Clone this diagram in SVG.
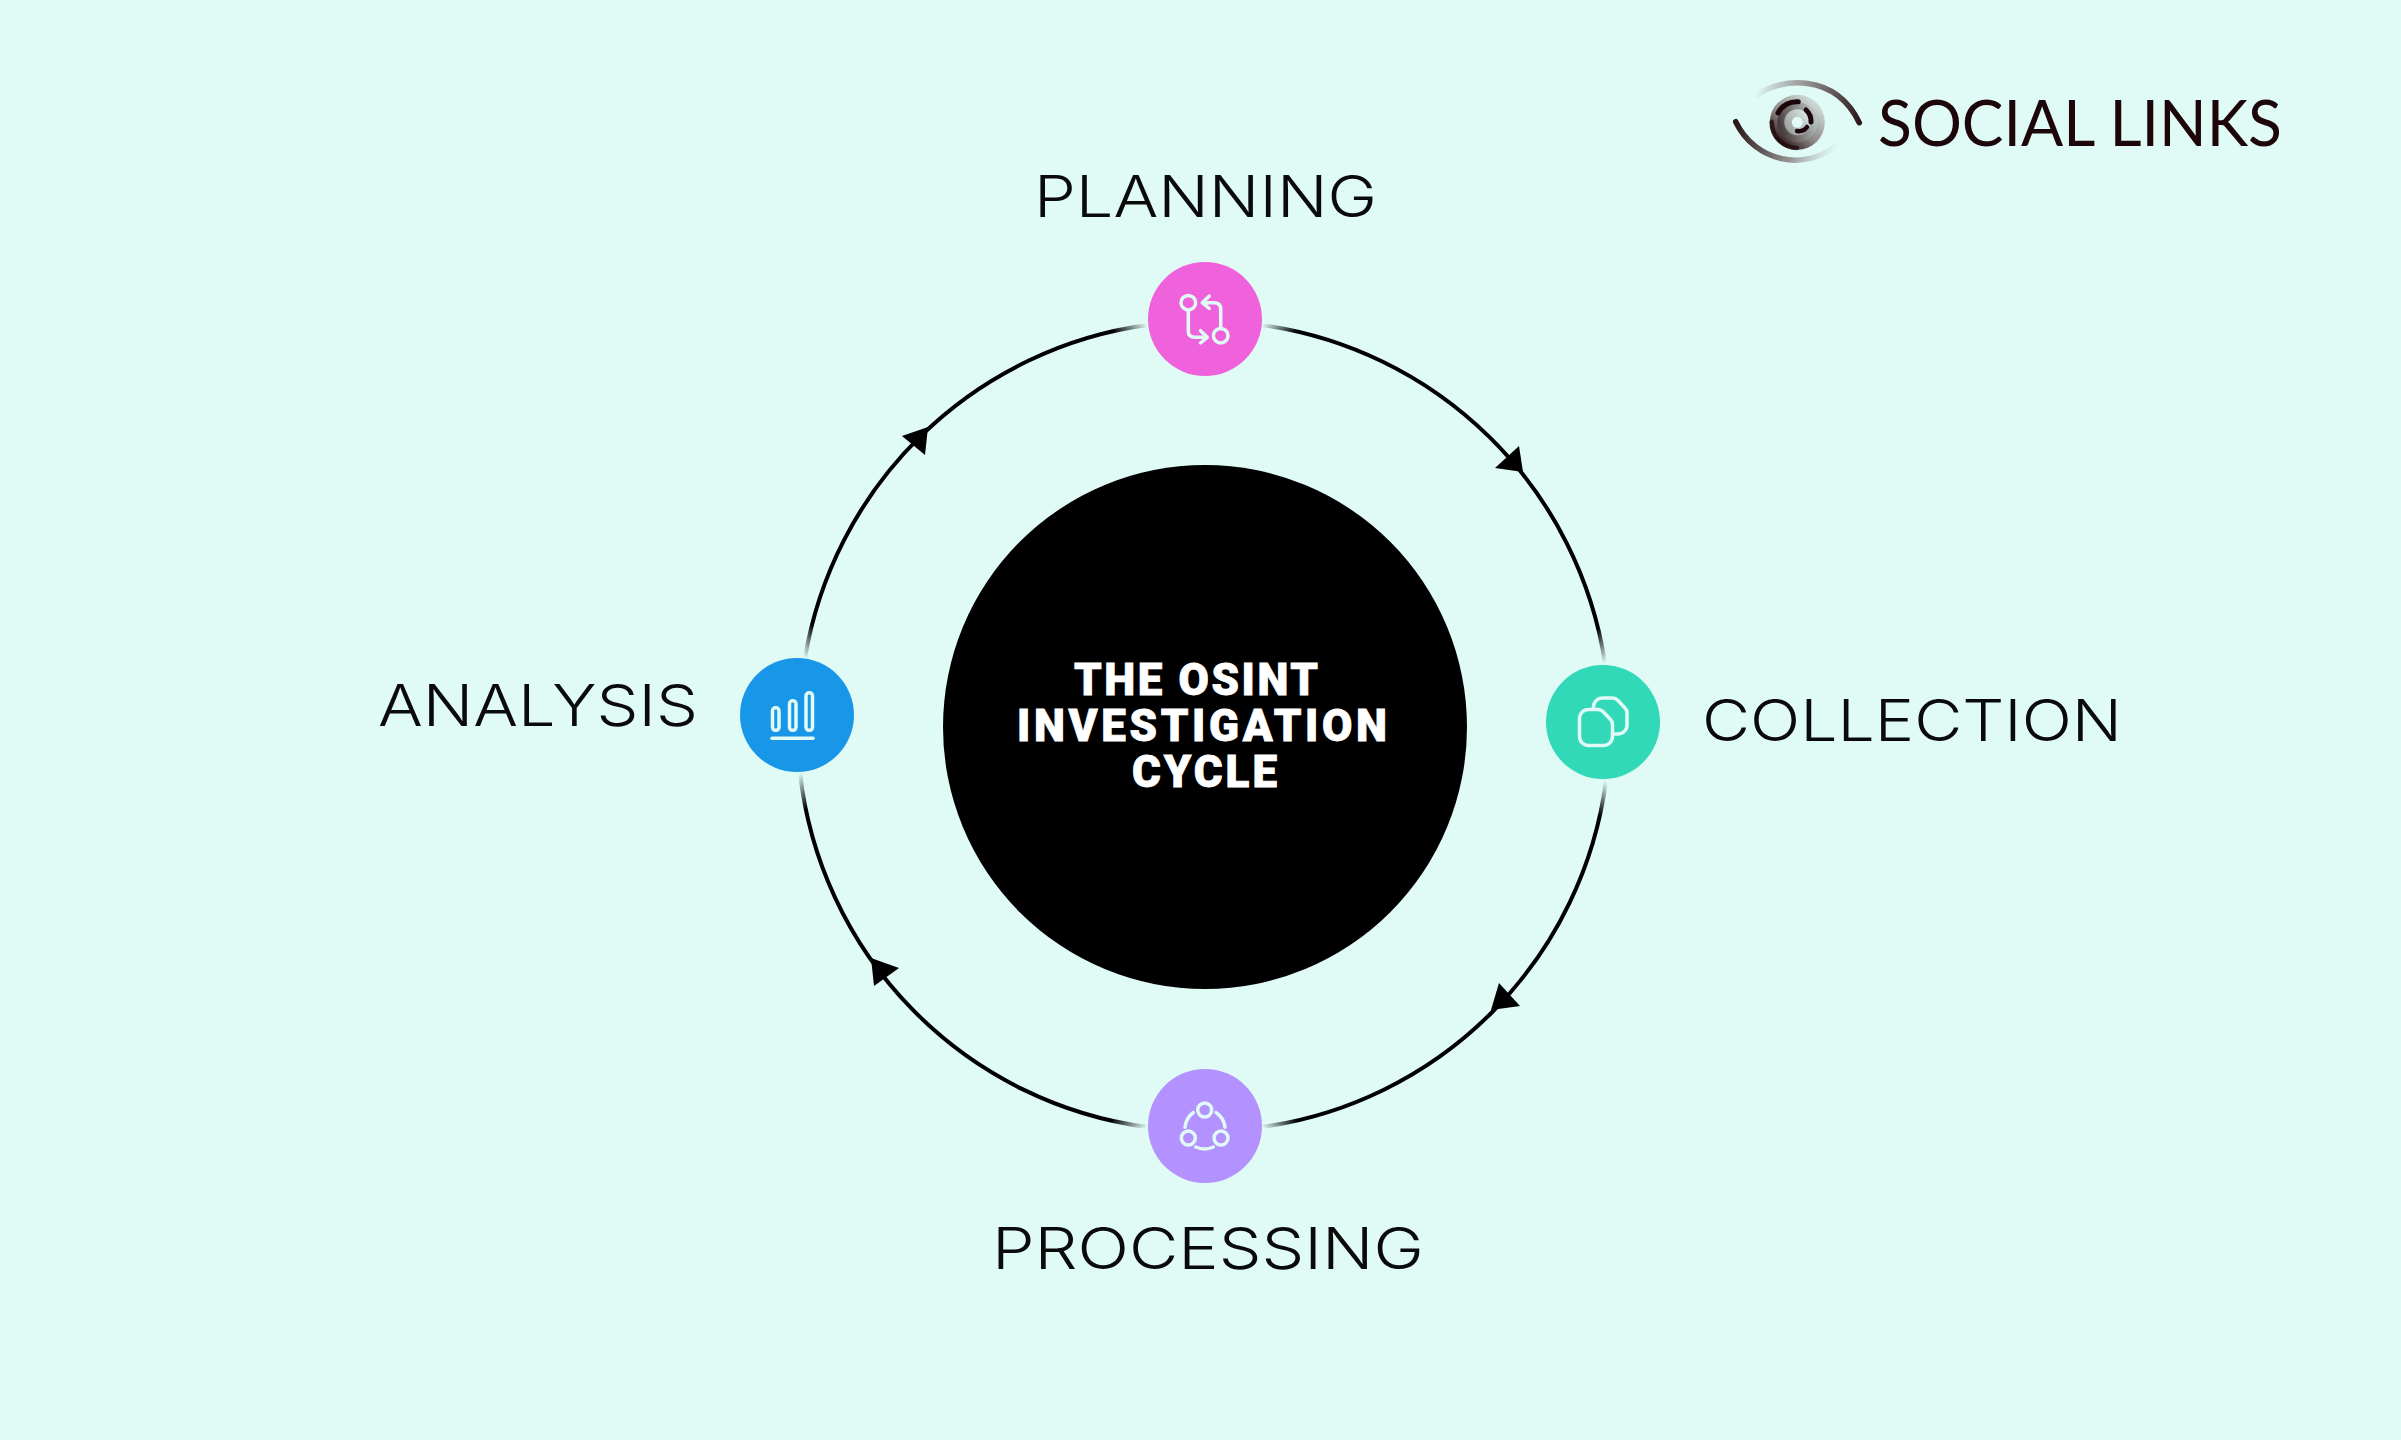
<svg xmlns="http://www.w3.org/2000/svg" width="2401" height="1440" viewBox="0 0 2401 1440">
<style>
.lbl{font-family:"Inter","Liberation Sans",sans-serif;font-size:58px;font-weight:350;fill:#0a0a0a}
.ttl{font-family:"Roboto","Liberation Sans",sans-serif;font-size:44px;font-weight:900;fill:#fff;stroke:#fff;stroke-width:.8}
.ic{fill:none;stroke:#e0faf5;stroke-width:3.5;stroke-linecap:round;stroke-linejoin:round}
.arc{fill:none;stroke-width:4}
.brand{font-family:"Lato","Liberation Sans",sans-serif;font-size:64px;font-weight:400;fill:#1c060a}
.dk{fill:none;stroke:#1c060a;stroke-linecap:round}
</style>
<defs>
<linearGradient id="a1" gradientUnits="userSpaceOnUse" x1="1262" y1="325" x2="1605" y2="663"><stop offset="0" stop-color="#000" stop-opacity="0"/><stop offset=".06" stop-color="#000"/><stop offset=".94" stop-color="#000"/><stop offset="1" stop-color="#000" stop-opacity="0"/></linearGradient>
<linearGradient id="a2" gradientUnits="userSpaceOnUse" x1="1606" y1="781" x2="1262" y2="1127"><stop offset="0" stop-color="#000" stop-opacity="0"/><stop offset=".06" stop-color="#000"/><stop offset=".94" stop-color="#000"/><stop offset="1" stop-color="#000" stop-opacity="0"/></linearGradient>
<linearGradient id="a3" gradientUnits="userSpaceOnUse" x1="1147" y1="1127" x2="800" y2="773"><stop offset="0" stop-color="#000" stop-opacity="0"/><stop offset=".06" stop-color="#000"/><stop offset=".94" stop-color="#000"/><stop offset="1" stop-color="#000" stop-opacity="0"/></linearGradient>
<linearGradient id="a4" gradientUnits="userSpaceOnUse" x1="805" y1="658" x2="1147" y2="325"><stop offset="0" stop-color="#000" stop-opacity="0"/><stop offset=".06" stop-color="#000"/><stop offset=".94" stop-color="#000"/><stop offset="1" stop-color="#000" stop-opacity="0"/></linearGradient>
<linearGradient id="eyeA" gradientUnits="userSpaceOnUse" x1="1755" y1="95" x2="1860" y2="122"><stop offset="0" stop-color="#8a8a8a" stop-opacity="0"/><stop offset=".4" stop-color="#999"/><stop offset="1" stop-color="#2a1518"/></linearGradient>
<linearGradient id="eyeB" gradientUnits="userSpaceOnUse" x1="1736" y1="122" x2="1838" y2="145"><stop offset="0" stop-color="#2a1518"/><stop offset=".6" stop-color="#999"/><stop offset="1" stop-color="#b8c8c4" stop-opacity="0"/></linearGradient>
<linearGradient id="eyeC" x1=".2" y1=".9" x2=".85" y2=".1"><stop offset="0" stop-color="#2a1518"/><stop offset=".4" stop-color="#8a8684"/><stop offset="1" stop-color="#d4e2de"/></linearGradient>
<linearGradient id="eyeD" x1=".1" y1=".7" x2=".95" y2=".4"><stop offset="0" stop-color="#4a3c3e"/><stop offset="1" stop-color="#b4c0bc"/></linearGradient>
<linearGradient id="eyeE" x1=".1" y1=".8" x2=".9" y2=".2"><stop offset="0" stop-color="#9aa09e"/><stop offset="1" stop-color="#d6e4e0"/></linearGradient>
</defs>
<rect width="2401" height="1440" fill="#e0faf5"/>
<g id="connectors">
<path class="arc" stroke="url(#a1)" d="M1262 325A403 403 0 0 1 1605 663"/>
<path class="arc" stroke="url(#a2)" d="M1606 781A403 403 0 0 1 1262 1127"/>
<path class="arc" stroke="url(#a3)" d="M1147 1127A403 403 0 0 1 800 773"/>
<path class="arc" stroke="url(#a4)" d="M805 658A403 403 0 0 1 1147 325"/>
<path fill="#000" d="M1523 472L1495 468L1519 446Z"/>
<path fill="#000" d="M1491 1010L1499 983L1520 1006Z"/>
<path fill="#000" d="M871 958L899 968L874 986Z"/>
<path fill="#000" d="M928 427L902 436L925 455Z"/>
</g>
<g id="center"><circle cx="1205" cy="727" r="262" fill="#000"/>
<text class="ttl"><tspan x="1074" y="695" textLength="244" lengthAdjust="spacing">THE OSINT</tspan><tspan x="1017" y="741" textLength="370" lengthAdjust="spacing">INVESTIGATION</tspan><tspan x="1132" y="787" textLength="145" lengthAdjust="spacing">CYCLE</tspan></text></g>
<g id="planning"><circle cx="1205" cy="319" r="57" fill="#f061dc"/>
<g class="ic"><circle cx="1188.300" cy="302.700" r="7.300"/><circle cx="1220.700" cy="335.700" r="7.300"/><path d="M1188.300 310.500V331Q1188.300 337.300 1195 337.300H1207.300M1200.500 330.700L1207.300 337.300L1200.500 343M1220.700 327.500V309Q1220.700 302.700 1214 302.700H1202.300M1209.300 296L1202.300 302.700L1209.300 308.500"/></g>
<text class="lbl" x="1034" y="217" textLength="343" lengthAdjust="spacingAndGlyphs">PLANNING</text></g>
<g id="collection"><circle cx="1603" cy="722" r="57" fill="#31d9b9"/>
<g class="ic"><path d="M1589 709.500h9q3 0 5.500 2.500l7 7.500q2 2 2 5v12a9 9 0 0 1-9 9h-15a9 9 0 0 1-9-9v-18a9 9 0 0 1 9-9Z"/><path d="M1593.500 709v-2a9 9 0 0 1 9-9h10q3 0 5.500 2.500l7 7.500q2 2 2 5v12a9 9 0 0 1-9 9h-5"/></g>
<text class="lbl" x="1702" y="741" textLength="420" lengthAdjust="spacingAndGlyphs">COLLECTION</text></g>
<g id="processing"><circle cx="1205" cy="1126" r="57" fill="#b391ff"/>
<g class="ic"><circle cx="1204.700" cy="1110" r="7"/><circle cx="1188.300" cy="1138" r="7"/><circle cx="1221" cy="1138" r="7"/><path d="M1193.300 1112.500Q1186 1118 1185 1127.300M1216 1112.500Q1224 1118 1225 1127.300M1195.700 1147Q1204.500 1151 1213.300 1147"/></g>
<text class="lbl" x="992" y="1269" textLength="432" lengthAdjust="spacingAndGlyphs">PROCESSING</text></g>
<g id="analysis"><circle cx="797" cy="715" r="57" fill="#1896e8"/>
<g class="ic"><rect x="772.500" y="707.800" width="6.500" height="22.500" rx="3"/><rect x="789.500" y="700.800" width="6.500" height="29.500" rx="3"/><rect x="806" y="692.800" width="6.500" height="37.500" rx="3"/><path d="M772 738.300H813"/></g>
<text class="lbl" x="378" y="726" textLength="320" lengthAdjust="spacingAndGlyphs">ANALYSIS</text></g>
<g id="logo">
<path d="M1757 95C1780 78 1835 72 1859.300 122.700" fill="none" stroke="url(#eyeA)" stroke-width="5.500" stroke-linecap="round"/>
<path d="M1735.700 121.700C1755 162 1805 172 1836.700 145" fill="none" stroke="url(#eyeB)" stroke-width="5.500" stroke-linecap="round"/>
<circle cx="1797.300" cy="122.300" r="27.500" fill="url(#eyeC)"/>
<circle cx="1797.300" cy="122.300" r="20" fill="url(#eyeD)"/>
<circle cx="1797.300" cy="122.300" r="13" fill="url(#eyeE)"/>
<circle cx="1797.300" cy="122.300" r="5.500" fill="#e0faf5"/>
<path class="dk" stroke-width="5" d="M1798.300 101.700A21 21 0 0 0 1778 113"/>
<path class="dk" stroke-width="4.500" opacity=".7" d="M1771.700 121.700A25.500 25.500 0 0 0 1797 148"/>
<path class="dk" stroke-width="5" d="M1806 110A15 15 0 0 1 1811 122"/>
<path class="dk" stroke-width="4.500" d="M1797 131A10 10 0 0 0 1807 127"/>
<text class="brand" x="1878" y="146" textLength="404" lengthAdjust="spacingAndGlyphs">SOCIAL LINKS</text></g>
</svg>
